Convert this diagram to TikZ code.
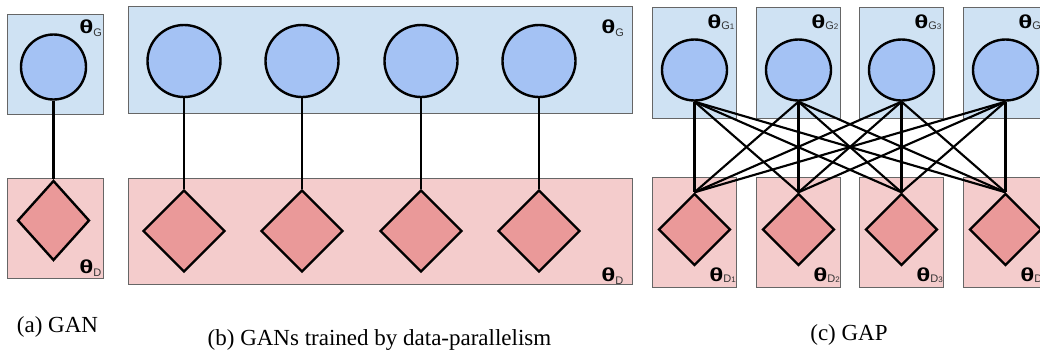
\documentclass[tikz,border=0pt]{standalone}
\usepackage{fontspec}
\usepackage{graphicx}
\setmainfont{Liberation Serif}
\newfontfamily\lblfont{Liberation Sans}
\usetikzlibrary{shapes.geometric}
\definecolor{boxblue}{HTML}{CFE2F3}
\definecolor{nodeblue}{HTML}{A4C2F4}
\definecolor{boxpink}{HTML}{F4CCCC}
\definecolor{nodepink}{HTML}{EA9999}
\definecolor{boxedge}{HTML}{666666}
\definecolor{subgray}{HTML}{333333}
\newcommand{\thsym}{{\lblfont\fontsize{13.5pt}{14pt}\selectfont\bfseries\scalebox{1.45}[1.05]{θ}}}
\newcommand{\thlab}[1]{\thsym\raisebox{-2.6pt}{\lblfont\fontsize{8.25pt}{9pt}\selectfont\color{subgray}#1}}
\newcommand{\thlabn}[2]{\thsym\raisebox{-0.8pt}{\lblfont\fontsize{8.25pt}{9pt}\selectfont\color{subgray}#1\fontsize{6pt}{7pt}\selectfont#2}}
\tikzset{
  bluebox/.style={fill=boxblue,draw=boxedge,line width=0.75pt},
  pinkbox/.style={fill=boxpink,draw=boxedge,line width=0.75pt},
  gcirc/.style={ellipse,draw=black,line width=1.8pt,fill=nodeblue,inner sep=0pt},
  ddiam/.style={diamond,draw=black,line width=1.8pt,fill=nodepink,inner sep=0pt},
  conn/.style={draw=black,line width=1.6pt},
  lbl/.style={inner sep=0pt,anchor=base west},
  capt/.style={inner sep=0pt,anchor=base,font=\fontsize{17.25pt}{20pt}\selectfont}
}
\begin{document}
\begin{tikzpicture}[x=0.75pt,y=-0.75pt]
\useasboundingbox (0,0) rectangle (1040,350);
% ---------- (a) GAN
\draw[bluebox] (7,14) rectangle (103,114);
\draw[pinkbox] (7,178) rectangle (103,278);
\node[gcirc,minimum width=65*0.75pt,minimum height=65*0.75pt] (ag) at (53.5,67) {};
\node[ddiam,minimum width=72*0.75pt,minimum height=80*0.75pt] (ad) at (53.5,220.5) {};
\draw[conn] (ag.south) -- (ad.north);
\node[lbl] (agl) at (79,33) {\thlab{G}};
\node[lbl] (adl) at (79,273) {\thlab{D}};
\node[capt] (acap) at (57.5,332) {(a) GAN};
% ---------- (b) data parallel
\draw[bluebox] (128,6) rectangle (632,113);
\draw[pinkbox] (128,178) rectangle (632,284);
\foreach \i/\x in {1/184,2/302,3/421,4/539}{
  \node[gcirc,minimum width=73*0.75pt,minimum height=72*0.75pt] (bg\i) at (\x,61) {};
  \node[ddiam,minimum width=82*0.75pt,minimum height=82*0.75pt] (bd\i) at (\x,231) {};
  \draw[conn] (bg\i.south) -- (bd\i.north);
}
\node[lbl] (bgl) at (601,33) {\thlab{G}};
\node[lbl] (bdl) at (601,281) {\thlab{D}};
\node[capt] (bcap) at (379.5,345) {(b) GANs trained by data-parallelism};
% ---------- (c) GAP
\foreach \i/\l in {1/652,2/756,3/859,4/963}{
  \draw[bluebox] (\l,7) rectangle ++(84,111);
  \draw[pinkbox] (\l,177) rectangle ++(84,110);
  \node[gcirc,minimum width=65*0.75pt,minimum height=61*0.75pt] (cg\i) at (\l+42.5,70) {};
  \node[ddiam,minimum width=72*0.75pt,minimum height=72*0.75pt] (cd\i) at (\l+42.5,229.5) {};
  \node[lbl] (cgl\i) at (\l+55,28) {\thlabn{G}{\i}};
  \node[lbl] (cdl\i) at (\l+57,281) {\thlabn{D}{\i}};
}
\foreach \i in {1,...,4}{
  \foreach \j in {1,...,4}{
    \draw[conn] (cg\i.south) -- (cd\j.north);
  }
}
\node[capt] (ccap) at (849,340) {(c) GAP};
\end{tikzpicture}
\end{document}
